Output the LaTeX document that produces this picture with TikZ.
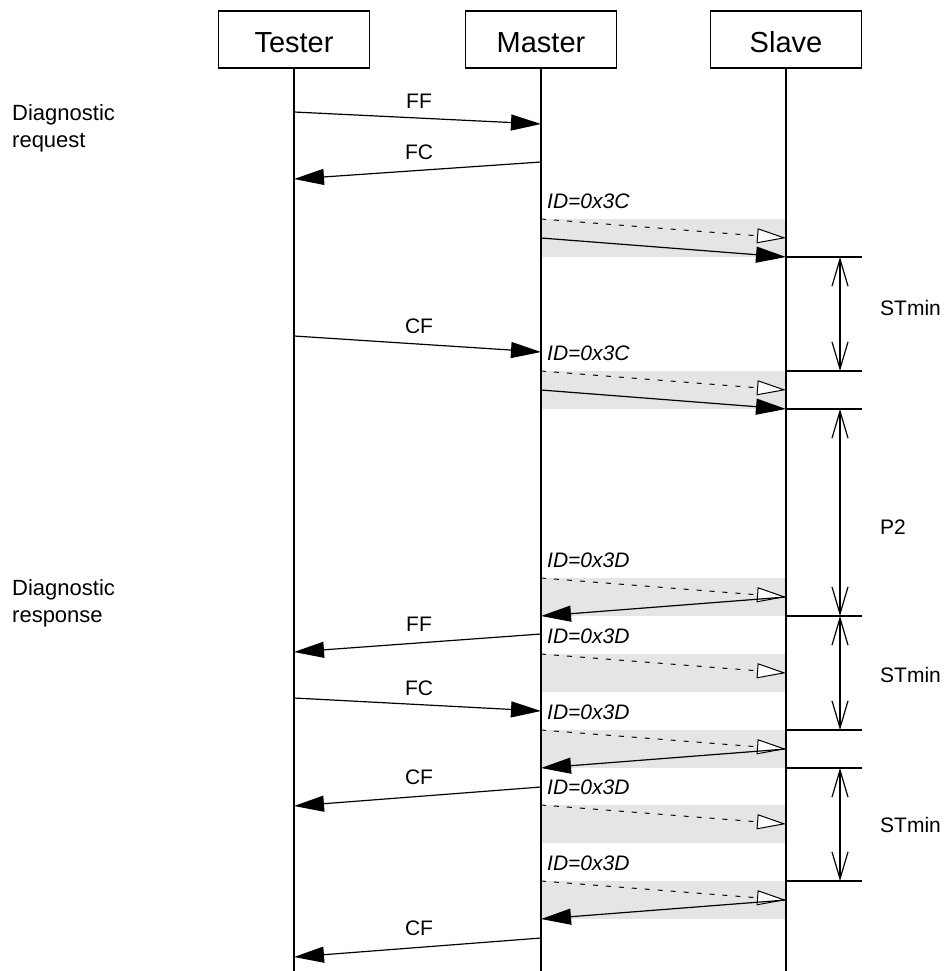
\documentclass[tikz,border=0pt]{standalone}
\usepackage{fontspec}
\setmainfont{Liberation Sans}
\usetikzlibrary{arrows.meta}
\newcommand\mymsg[6]{%
  \coordinate (#1s) at (#2,#3);
  \coordinate (#1e) at (#4,#5);
  \draw[msg] (#1s) -- (#1e);
  \node[lbl] (#1l) at (419,{#3-3}) {#6};
}
\newcommand\myband[3]{%
  \fill[band] (541,#2) rectangle (786,{#2+38});
  \node[idl] (#1l) at (547,{#2-11}) {#3};
  \coordinate (#1a) at (541,#2);
  \coordinate (#1m) at (541,{#2+19});
  \coordinate (#1b) at (786,{#2+19});
  \coordinate (#1c) at (541,{#2+38});
  \coordinate (#1d) at (786,{#2+38});
  \draw[sig] (#1a) -- (#1b);
}
\newcommand\mytick[2]{%
  \coordinate (#1a) at (786,#2);
  \coordinate (#1b) at (862,#2);
  \coordinate (#1c) at (840,#2);
  \draw[tick] (#1a) -- (#1b);
}
\begin{document}
\begin{tikzpicture}[x=1pt,y=-1pt,
  actor/.style={draw,line width=1.8pt,minimum width=151pt,minimum height=57pt,inner sep=0pt},
  title/.style={anchor=base,inner sep=0pt,font=\fontsize{29}{33}\selectfont},
  life/.style={line width=1.8pt},
  msg/.style={line width=1.2pt,-{Triangle[length=30pt,width=16pt]}},
  sig/.style={line width=1pt,dash pattern=on 5pt off 8pt,-{Triangle[length=29pt,width=15pt,fill=white,line width=1pt]}},
  band/.style={fill=black!10},
  lbl/.style={anchor=base,inner sep=0pt,font=\fontsize{21}{25}\selectfont},
  side/.style={anchor=base west,inner sep=0pt,font=\fontsize{22}{26}\selectfont},
  idl/.style={anchor=base west,inner sep=0pt,font=\fontsize{21}{25}\selectfont\itshape},
  tick/.style={line width=1.8pt},
  span/.style={line width=1.6pt,{Straight Barb[length=27pt,width=16pt,line width=1.2pt]}-{Straight Barb[length=27pt,width=16pt,line width=1.2pt]}},
  slbl/.style={anchor=west,inner sep=0pt,font=\fontsize{21}{25}\selectfont},
]
\useasboundingbox (0,0) rectangle (944,971);

% actors
\node[actor] (tester) at (294,39.5) {};
\node[actor] (master) at (541,39.5) {};
\node[actor] (slave) at (786,39.5) {};
\node[title] (testerT) at (294,53) {Tester};
\node[title] (masterT) at (541,53) {Master};
\node[title] (slaveT) at (786,53) {Slave};

% side labels
\node[side] (dq1) at (12,121) {Diagnostic};
\node[side] (dq2) at (12,147) {request};
\node[side] (dr1) at (12,595) {Diagnostic};
\node[side] (dr2) at (12,622) {response};

% LIN frames
\myband{b1}{219}{ID=0x3C}
\myband{b2}{371}{ID=0x3C}
\myband{b3}{578}{ID=0x3D}
\myband{b4}{654}{ID=0x3D}
\myband{b5}{730}{ID=0x3D}
\myband{b6}{805}{ID=0x3D}
\myband{b7}{881}{ID=0x3D}
\draw[msg] (b1m) -- (b1d);
\draw[msg] (b2m) -- (b2d);
\draw[msg] (b3b) -- (b3c);
\draw[msg] (b5b) -- (b5c);
\draw[msg] (b7b) -- (b7c);

% CAN messages
\mymsg{m1}{294}{112}{541}{124}{FF}
\mymsg{m2}{541}{162}{294}{179}{FC}
\mymsg{m3}{294}{336}{541}{352}{CF}
\mymsg{m4}{541}{634}{294}{652}{FF}
\mymsg{m5}{294}{698}{541}{711}{FC}
\mymsg{m6}{541}{787}{294}{806}{CF}
\mymsg{m7}{541}{938}{294}{957}{CF}

% timing ticks
\mytick{h1}{257}
\mytick{h2}{371}
\mytick{h3}{409}
\mytick{h4}{616}
\mytick{h5}{730}
\mytick{h6}{768}
\mytick{h7}{881}
\draw[span] (h1c) -- (h2c);
\draw[span] (h3c) -- (h4c);
\draw[span] (h4c) -- (h5c);
\draw[span] (h6c) -- (h7c);
\node[slbl] (st1) at (880,308) {STmin};
\node[slbl] (p2) at (880,527) {P2};
\node[slbl] (st2) at (880,675) {STmin};
\node[slbl] (st3) at (880,825) {STmin};

% lifelines
\coordinate (tEnd) at (294,971);
\coordinate (mEnd) at (541,971);
\coordinate (sEnd) at (786,971);
\draw[life] (tester.south) -- (tEnd);
\draw[life] (master.south) -- (mEnd);
\draw[life] (slave.south) -- (sEnd);
\end{tikzpicture}
\end{document}
